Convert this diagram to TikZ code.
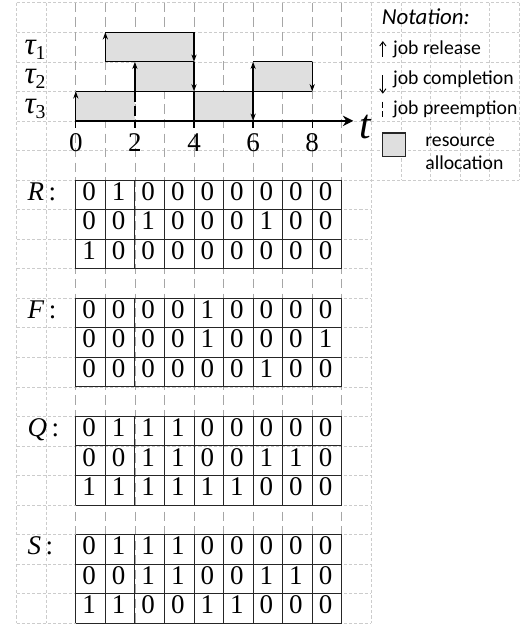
\documentclass[tikz,border=0pt]{standalone}
\usepackage{fontspec}
\setmainfont{Liberation Serif}
\newfontfamily\notefont{Carlito}
\usetikzlibrary{arrows.meta,calc}

\begin{document}
\begin{tikzpicture}[x=1cm,y=1cm]
    \tikzstyle{every node}=[inner sep=0pt]
    \tikzstyle{lightgrid}=[gray!40, line width=0.5pt, dash pattern=on 3pt off 2pt]
    \tikzstyle{timegrid}=[gray!70, line width=0.6pt, dash pattern=on 9pt off 5pt]
    \tikzstyle{job}=[fill=gray!25]
    \tikzstyle{edge}=[line width=1.2pt]
    \tikzstyle{release}=[edge, -{Stealth[length=7pt,width=5pt]}]
    \tikzstyle{finish}=[edge, -{Stealth[length=7pt,width=5pt]}]
    \tikzstyle{preempt}=[edge, dash pattern=on 10pt off 4pt]
    \tikzstyle{matline}=[gray!30!black, line width=0.9pt]
    \tikzstyle{bit}=[font=\fontsize{26}{28}\selectfont, anchor=base]
    \tikzstyle{note}=[font=\notefont\fontsize{19}{21}\selectfont, anchor=base west]
    \tikzstyle{legarrow}=[line width=0.9pt, -{Straight Barb[length=4pt,width=6pt]}]

    \useasboundingbox (-0.565,0.091) rectangle (17.37,-21.025);

    % background grid
    \foreach \j in {0,...,21} \draw[lightgrid] (0,-\j) -- (12,-\j);
    \foreach \j in {0,...,6} \draw[lightgrid] (12,-\j) -- (17,-\j);
    \foreach \k in {0,1,12} \draw[lightgrid] (\k,0) -- (\k,-21);
    \foreach \k in {13,...,17} \draw[lightgrid] (\k,0) -- (\k,-6);
    \foreach \k in {2,...,11} \draw[timegrid] (\k,0) -- (\k,-21);

    % schedule, time t sits at x = 2+t
    \fill[job] (3,-1) rectangle (6,-2);   % tau_1
    \fill[job] (4,-2) rectangle (6,-3);   % tau_2
    \fill[job] (8,-2) rectangle (10,-3);
    \fill[job] (2,-3) rectangle (4,-4);   % tau_3
    \fill[job] (6,-3) rectangle (8,-4);

    \draw[edge] (3,-1) -- (6,-1);
    \draw[edge] (3,-2) -- (6,-2);
    \draw[edge] (8,-2) -- (10,-2);
    \draw[edge] (2,-3) -- (10,-3);
    \draw[edge] (6,-3) -- (6,-4);
    \draw[preempt] (4,-3) -- (4,-4);

    % releases and completions
    \draw[release] (3,-2) -- (3,-1);
    \draw[release] (4,-3) -- (4,-2);
    \draw[release] (8,-3) -- (8,-2);
    \draw[release] (2,-4) -- (2,-3);
    \draw[finish] (6,-1) -- (6,-2);
    \draw[finish] (6,-2) -- (6,-3);
    \draw[finish] (10,-2) -- (10,-3);
    \draw[finish] (8,-3) -- (8,-4);

    % draw axis
    \draw[edge, -{Stealth[length=10pt,width=10pt]}] (2,-4) -- (11.39,-4);
    \foreach \t in {0,2,...,8} {
      \draw[edge] (2+\t,-4) -- (2+\t,-4.25);
      \node[bit] (tick\t) at (2+\t,-5.05) {\t};
    }
    \node[font=\fontsize{40}{42}\selectfont\itshape] (tlab) at (11.8,-4.2) {t};

    \foreach \n in {1,2,3}
      \node[anchor=base west] (tau\n) at (0.26,-\n-0.75)
        {{\fontsize{30}{30}\selectfont\itshape τ}\raisebox{-4.5pt}{\fontsize{19}{19}\selectfont \n}};

    % notation
    \node[anchor=base west, font=\notefont\itshape\fontsize{22}{24}\selectfont] (nothead) at (12.35,-0.755) {Notation:};
    \draw[legarrow] (12.39,-1.83) -- (12.39,-1.3);
    \node[note] (relnote) at (12.73,-1.77) {job release};
    \draw[legarrow] (12.39,-2.45) -- (12.39,-3.08);
    \node[note] (finnote) at (12.73,-2.78) {job completion};
    \draw[line width=0.9pt, dash pattern=on 6pt off 3pt] (12.39,-3.35) -- (12.39,-3.9);
    \node[note] (prenote) at (12.73,-3.78) {job preemption};
    \draw[job, draw=gray!30!black, line width=1pt] (12.39,-4.41) rectangle (13.16,-5.21);
    \node[note] (resnote) at (13.82,-4.87) {resource};
    \node[note] (allnote) at (13.82,-5.66) {allocation};

    % matrices
    \foreach \nm/\ytop/\ra/\rb/\rc in {
        R/6/{0,1,0,0,0,0,0,0,0}/{0,0,1,0,0,0,1,0,0}/{1,0,0,0,0,0,0,0,0},
        F/10/{0,0,0,0,1,0,0,0,0}/{0,0,0,0,1,0,0,0,1}/{0,0,0,0,0,0,1,0,0},
        Q/14/{0,1,1,1,0,0,0,0,0}/{0,0,1,1,0,0,1,1,0}/{1,1,1,1,1,1,0,0,0},
        S/18/{0,1,1,1,0,0,0,0,0}/{0,0,1,1,0,0,1,1,0}/{1,1,0,0,1,1,0,0,0}}
    {
      \draw[matline] (2,-\ytop) grid (11,-\ytop-3);
      \node[bit, anchor=base west] (\nm-lab) at (0.36,-\ytop-0.68) {\textit{\nm}\,:};
      \foreach \v [count=\i] in \ra \node[bit] (\nm-1-\i) at (1.45+\i,-\ytop-0.68) {\v};
      \foreach \v [count=\i] in \rb \node[bit] (\nm-2-\i) at (1.45+\i,-\ytop-1.68) {\v};
      \foreach \v [count=\i] in \rc \node[bit] (\nm-3-\i) at (1.45+\i,-\ytop-2.68) {\v};
    }

\end{tikzpicture}
\end{document}
